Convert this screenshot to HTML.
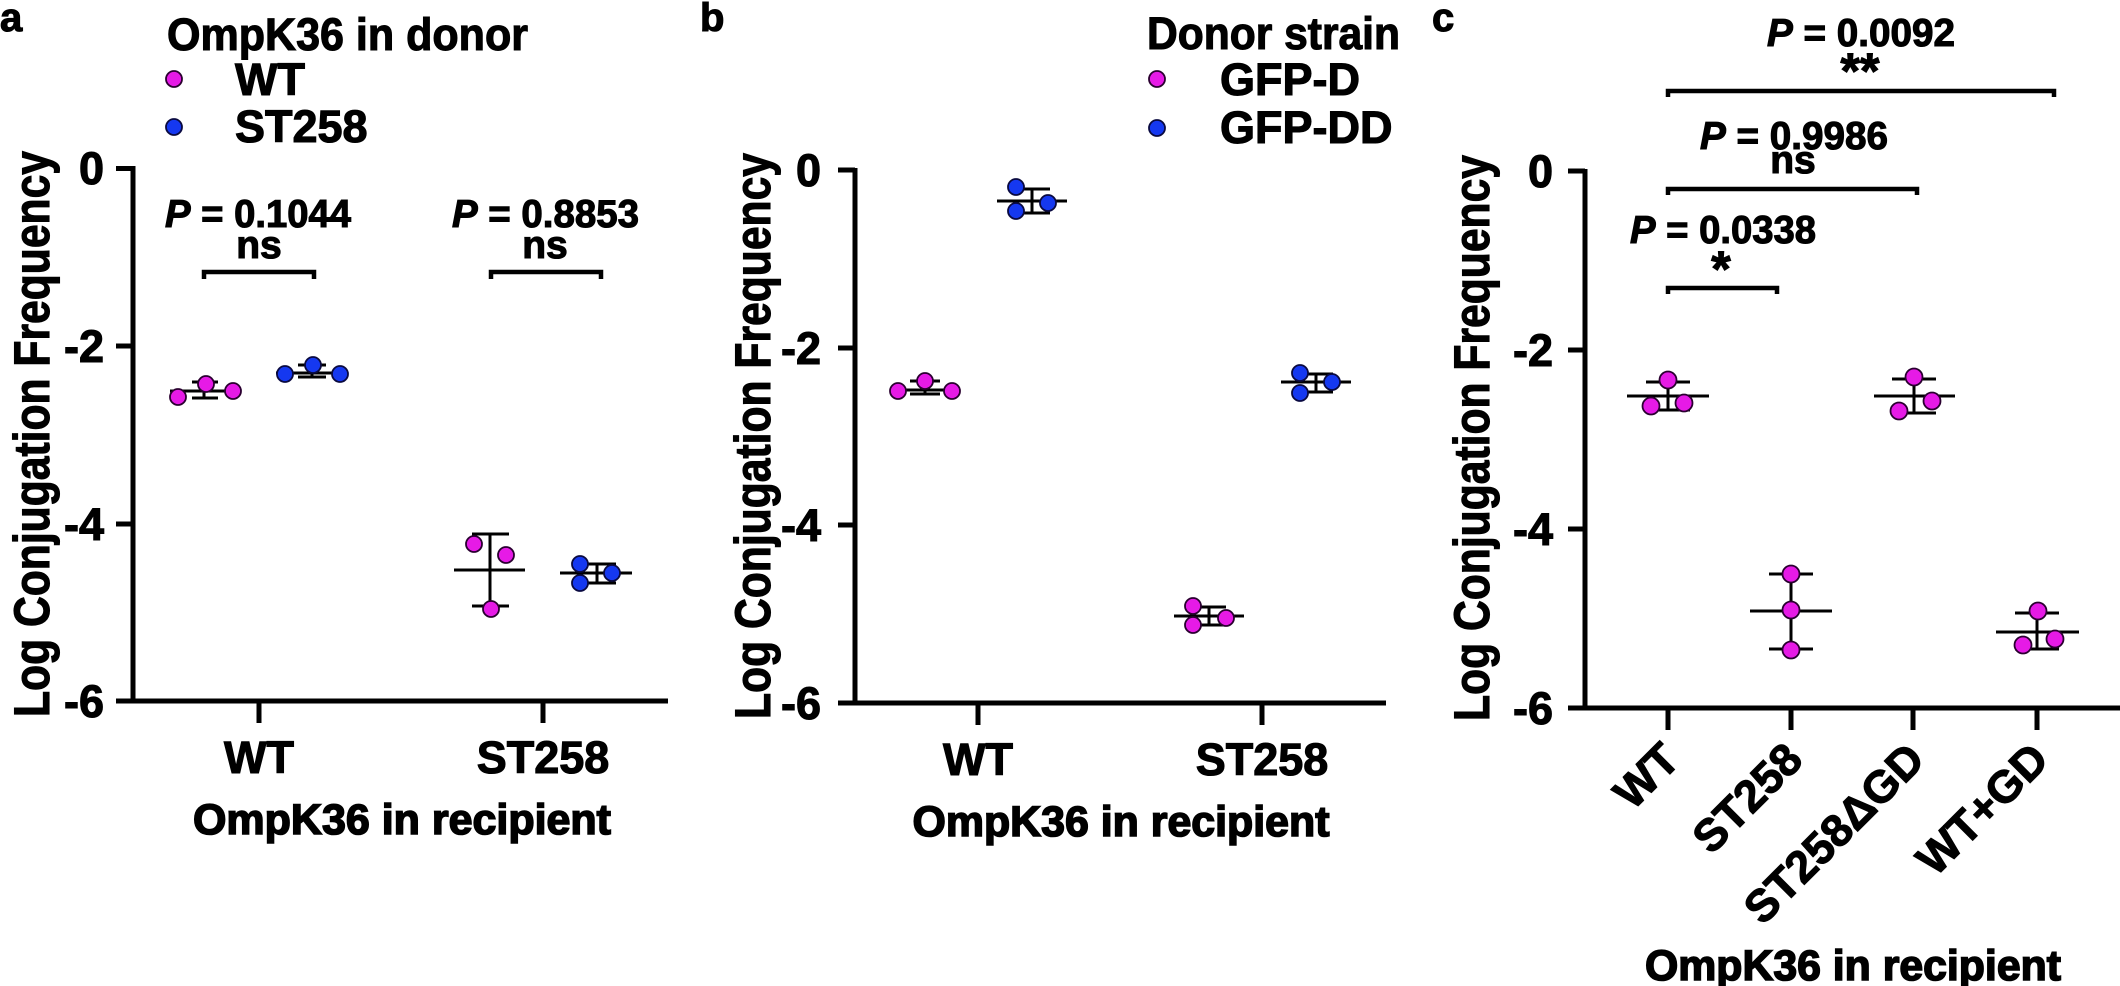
<!DOCTYPE html>
<html><head><meta charset="utf-8"><style>
html,body{margin:0;padding:0;background:#fff}
svg{display:block}
text{font-family:"Liberation Sans",Arial,sans-serif;font-weight:bold;fill:#000;stroke:#000;stroke-width:1.1}
.t{font-size:45px}
.p{font-size:39px}
.l{font-size:45px}
.xt{font-size:43px;stroke-width:1.6}
.ax{stroke:#000;stroke-width:5;fill:none}
.eb{stroke:#000;stroke-width:3;fill:none}
.br{stroke:#000;stroke-width:4.5;fill:none}
.m{fill:#e61ae6;stroke:#2a0030;stroke-width:1.8}
.b{fill:#1538f0;stroke:#0a0a40;stroke-width:1.8}
</style></head><body>
<svg width="2120" height="986" viewBox="0 0 2120 986" xmlns="http://www.w3.org/2000/svg">
<!-- Panel a -->
<text x="0" y="31" style="font-size:40px">a</text>
<text x="167" y="50" class="l" textLength="361" lengthAdjust="spacingAndGlyphs">OmpK36 in donor</text>
<circle cx="174" cy="79" r="8" class="m"/><text x="235" y="95" class="l">WT</text>
<circle cx="174" cy="127" r="8" class="b"/><text x="235" y="142" class="l">ST258</text>
<text transform="translate(49,434) rotate(-90)" text-anchor="middle" style="font-size:50px" textLength="566" lengthAdjust="spacingAndGlyphs">Log Conjugation Frequency</text>
<path class="ax" d="M133,166 V701 H668"/>
<path class="ax" d="M116,168.5 H133 M116,346 H133 M116,524 H133 M116,701 H133 M259,701 V723 M543,701 V723"/>
<g class="t" text-anchor="end"><text x="104" y="184">0</text><text x="104" y="362">-2</text><text x="104" y="540">-4</text><text x="104" y="717">-6</text></g>
<g class="t" text-anchor="middle"><text x="259" y="773">WT</text><text x="543" y="773">ST258</text></g>
<text x="402" y="834" class="xt" text-anchor="middle" textLength="418" lengthAdjust="spacingAndGlyphs">OmpK36 in recipient</text>
<text x="165" y="227" class="p" textLength="186" lengthAdjust="spacingAndGlyphs"><tspan font-style="italic">P</tspan> = 0.1044</text>
<text x="259" y="258" class="p" text-anchor="middle">ns</text>
<path class="br" d="M204,279 V272 H314 V279"/>
<text x="452" y="227" class="p" textLength="187" lengthAdjust="spacingAndGlyphs"><tspan font-style="italic">P</tspan> = 0.8853</text>
<text x="545" y="258" class="p" text-anchor="middle">ns</text>
<path class="br" d="M491,279 V272 H601 V279"/>
<path class="eb" d="M170,391 H238 M204,382 V398 M192,382 H218 M192,398 H218"/>
<circle cx="178" cy="397" r="8" class="m"/><circle cx="206" cy="384" r="8" class="m"/><circle cx="233" cy="391" r="8" class="m"/>
<path class="eb" d="M276,373 H347 M312,365 V377 M298,365 H326 M298,377 H326"/>
<circle cx="285" cy="374" r="8" class="b"/><circle cx="313" cy="365" r="8" class="b"/><circle cx="340" cy="374" r="8" class="b"/>
<path class="eb" d="M454,570 H525 M490,534 V606 M472,534 H509 M472,606 H509"/>
<circle cx="474" cy="544" r="8" class="m"/><circle cx="506" cy="555" r="8" class="m"/><circle cx="491" cy="609" r="8" class="m"/>
<path class="eb" d="M560,573 H632 M597,564 V583 M579,564 H616 M579,583 H616"/>
<circle cx="580" cy="564" r="8" class="b"/><circle cx="612" cy="573" r="8" class="b"/><circle cx="580" cy="583" r="8" class="b"/>

<!-- Panel b -->
<text x="700" y="31" style="font-size:40px">b</text>
<text x="1147" y="49" class="l" textLength="253" lengthAdjust="spacingAndGlyphs">Donor strain</text>
<circle cx="1157" cy="79" r="8" class="m"/><text x="1220" y="95" class="l">GFP-D</text>
<circle cx="1157" cy="128" r="8" class="b"/><text x="1220" y="143" class="l">GFP-DD</text>
<text transform="translate(770,436) rotate(-90)" text-anchor="middle" style="font-size:50px" textLength="566" lengthAdjust="spacingAndGlyphs">Log Conjugation Frequency</text>
<path class="ax" d="M855,168 V703 H1386"/>
<path class="ax" d="M838,170 H855 M838,348 H855 M838,525 H855 M838,703 H855 M978,703 V725 M1262,703 V725"/>
<g class="t" text-anchor="end"><text x="821" y="186">0</text><text x="821" y="364">-2</text><text x="821" y="541">-4</text><text x="821" y="719">-6</text></g>
<g class="t" text-anchor="middle"><text x="978" y="775">WT</text><text x="1262" y="775">ST258</text></g>
<text x="1121" y="836" class="xt" text-anchor="middle" textLength="417" lengthAdjust="spacingAndGlyphs">OmpK36 in recipient</text>
<path class="eb" d="M893,390 H957 M925,381 V394 M910,381 H940 M910,394 H940"/>
<circle cx="898" cy="391" r="8" class="m"/><circle cx="925" cy="381" r="8" class="m"/><circle cx="952" cy="391" r="8" class="m"/>
<path class="eb" d="M997,201 H1067 M1032,189 V213 M1015,189 H1050 M1015,213 H1050"/>
<circle cx="1016" cy="187" r="8" class="b"/><circle cx="1048" cy="203" r="8" class="b"/><circle cx="1016" cy="211" r="8" class="b"/>
<path class="eb" d="M1174,616 H1244 M1209,607 V625 M1192,607 H1226 M1192,625 H1226"/>
<circle cx="1193" cy="606" r="8" class="m"/><circle cx="1226" cy="618" r="8" class="m"/><circle cx="1193" cy="625" r="8" class="m"/>
<path class="eb" d="M1281,382 H1351 M1316,374 V392 M1299,374 H1333 M1299,392 H1333"/>
<circle cx="1300" cy="373" r="8" class="b"/><circle cx="1332" cy="382" r="8" class="b"/><circle cx="1300" cy="393" r="8" class="b"/>

<!-- Panel c -->
<text x="1432" y="31" style="font-size:40px">c</text>
<text transform="translate(1489,438) rotate(-90)" text-anchor="middle" style="font-size:50px" textLength="566" lengthAdjust="spacingAndGlyphs">Log Conjugation Frequency</text>
<path class="ax" d="M1585,169 V708 H2120"/>
<path class="ax" d="M1568,171 H1585 M1568,350 H1585 M1568,529 H1585 M1568,708 H1585 M1668,708 V730 M1791,708 V730 M1913,708 V730 M2037,708 V730"/>
<g class="t" text-anchor="end"><text x="1553" y="187">0</text><text x="1553" y="366">-2</text><text x="1553" y="545">-4</text><text x="1553" y="724">-6</text></g>
<g class="t" text-anchor="end">
<text transform="translate(1682,762) rotate(-45)">WT</text>
<text transform="translate(1805,762) rotate(-45)">ST258</text>
<text transform="translate(1927,762) rotate(-45)">ST258ΔGD</text>
<text transform="translate(2051,762) rotate(-45)">WT+GD</text>
</g>
<text x="1853" y="980" class="xt" text-anchor="middle" textLength="416" lengthAdjust="spacingAndGlyphs">OmpK36 in recipient</text>
<text x="1767" y="46" class="p" textLength="188" lengthAdjust="spacingAndGlyphs"><tspan font-style="italic">P</tspan> = 0.0092</text>
<text x="1860" y="88" text-anchor="middle" style="font-size:50px">**</text>
<path class="br" d="M1668,97 V91 H2054 V97"/>
<text x="1700" y="149" class="p" textLength="188" lengthAdjust="spacingAndGlyphs"><tspan font-style="italic">P</tspan> = 0.9986</text>
<text x="1793" y="173" class="p" text-anchor="middle">ns</text>
<path class="br" d="M1668,195 V189 H1917 V195"/>
<text x="1630" y="243" class="p" textLength="186" lengthAdjust="spacingAndGlyphs"><tspan font-style="italic">P</tspan> = 0.0338</text>
<text x="1721" y="286" text-anchor="middle" style="font-size:50px">*</text>
<path class="br" d="M1668,294 V288 H1777 V294"/>
<path class="eb" d="M1627,396 H1709 M1668,382 V410 M1646,382 H1690 M1646,410 H1690"/>
<circle cx="1668" cy="380" r="8.5" class="m"/><circle cx="1651" cy="406" r="8.5" class="m"/><circle cx="1684" cy="403" r="8.5" class="m"/>
<path class="eb" d="M1750,611 H1832 M1791,574 V649 M1769,574 H1813 M1769,649 H1813"/>
<circle cx="1791" cy="574" r="8.5" class="m"/><circle cx="1791" cy="610" r="8.5" class="m"/><circle cx="1791" cy="650" r="8.5" class="m"/>
<path class="eb" d="M1874,396 H1955 M1914,379 V413 M1892,379 H1936 M1892,413 H1936"/>
<circle cx="1914" cy="377" r="8.5" class="m"/><circle cx="1899" cy="411" r="8.5" class="m"/><circle cx="1932" cy="401" r="8.5" class="m"/>
<path class="eb" d="M1996,632 H2079 M2037,613 V649 M2015,613 H2059 M2015,649 H2059"/>
<circle cx="2038" cy="611" r="8.5" class="m"/><circle cx="2023" cy="645" r="8.5" class="m"/><circle cx="2055" cy="639" r="8.5" class="m"/>
</svg>
</body></html>
